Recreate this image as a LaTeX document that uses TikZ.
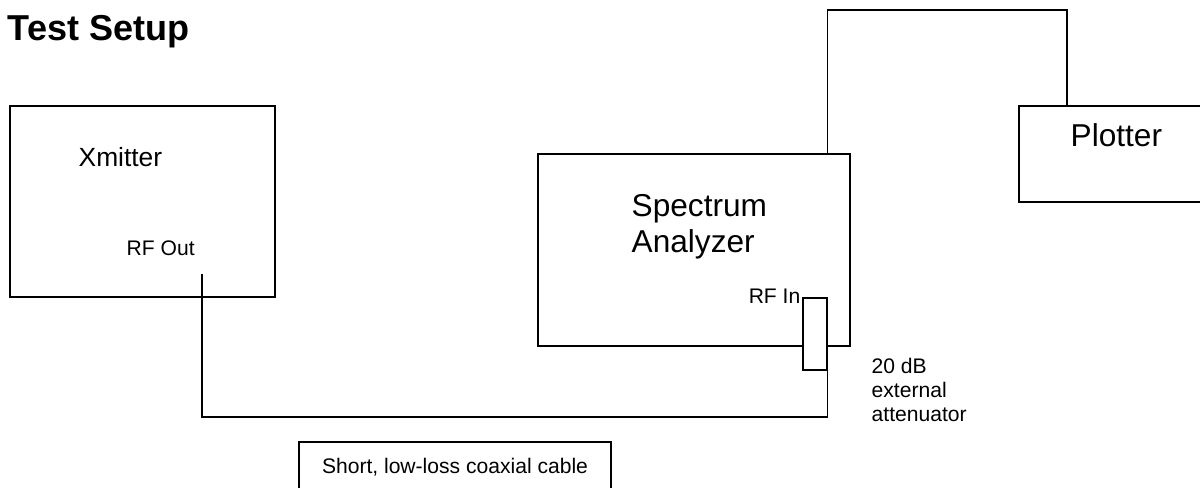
\documentclass[tikz,border=0pt]{standalone}
\usepackage{fontspec}
\setmainfont{Liberation Sans}
\usetikzlibrary{positioning}

\begin{document}
\begin{tikzpicture}[
      x=0.02cm, y=-0.02cm,
      line width=0.8pt,
      box/.style={draw, inner sep=0pt},
      lbl/.style={inner sep=0pt, align=left, font=\fontsize{12}{13.6}\selectfont},
      big/.style={inner sep=0pt, align=left, font=\fontsize{18}{20.6}\selectfont}]
    \useasboundingbox (0,0) rectangle (1200,487);
    \node[anchor=base west, inner sep=0pt, font=\fontsize{20.5}{24}\selectfont\bfseries] (title) at (7,40) {Test Setup};
    % instruments
    \node[box, minimum width=5.3cm, minimum height=3.82cm] (xmit) at (142.5,201.5) {};
    \node[box, minimum width=6.24cm, minimum height=3.84cm] (an) at (694,250) {};
    \node[box, minimum width=3.92cm, minimum height=1.92cm] (plot) at (1117,154) {};
    \node[box, fill=white, minimum width=0.48cm, minimum height=1.44cm] (att) at (815,334) {};
    \node[box, lbl, minimum width=6.24cm, minimum height=1cm] (cable) at (455,467) {Short, low-loss coaxial cable};
    % labels
    \node[big, anchor=base west, font=\fontsize{15}{18}\selectfont] (xmitlbl) at (78,166) {Xmitter};
    \node[lbl, anchor=base west] (rfout) at (126,255) {RF Out};
    \node[big, anchor=west] (anlbl) at (631,227) {Spectrum\\Analyzer};
    \node[lbl, anchor=base east] (rfin) at (801,303) {RF In};
    \node[big, anchor=base west] (plotlbl) at (1070,146) {Plotter};
    \node[lbl, anchor=west] (attlbl) at (871,390) {20 dB\\external\\attenuator};
    % cables
    \coordinate (rfport) at (202,274);
    \coordinate (cablebend) at (202,417);
    \coordinate (plotbend) at (1067,10);
    \draw (rfport) -- (cablebend) -| (att.south east);
    \draw (an.north -| att.east) |- (plotbend) -- (plotbend |- plot.north);
  \end{tikzpicture}
\end{document}
